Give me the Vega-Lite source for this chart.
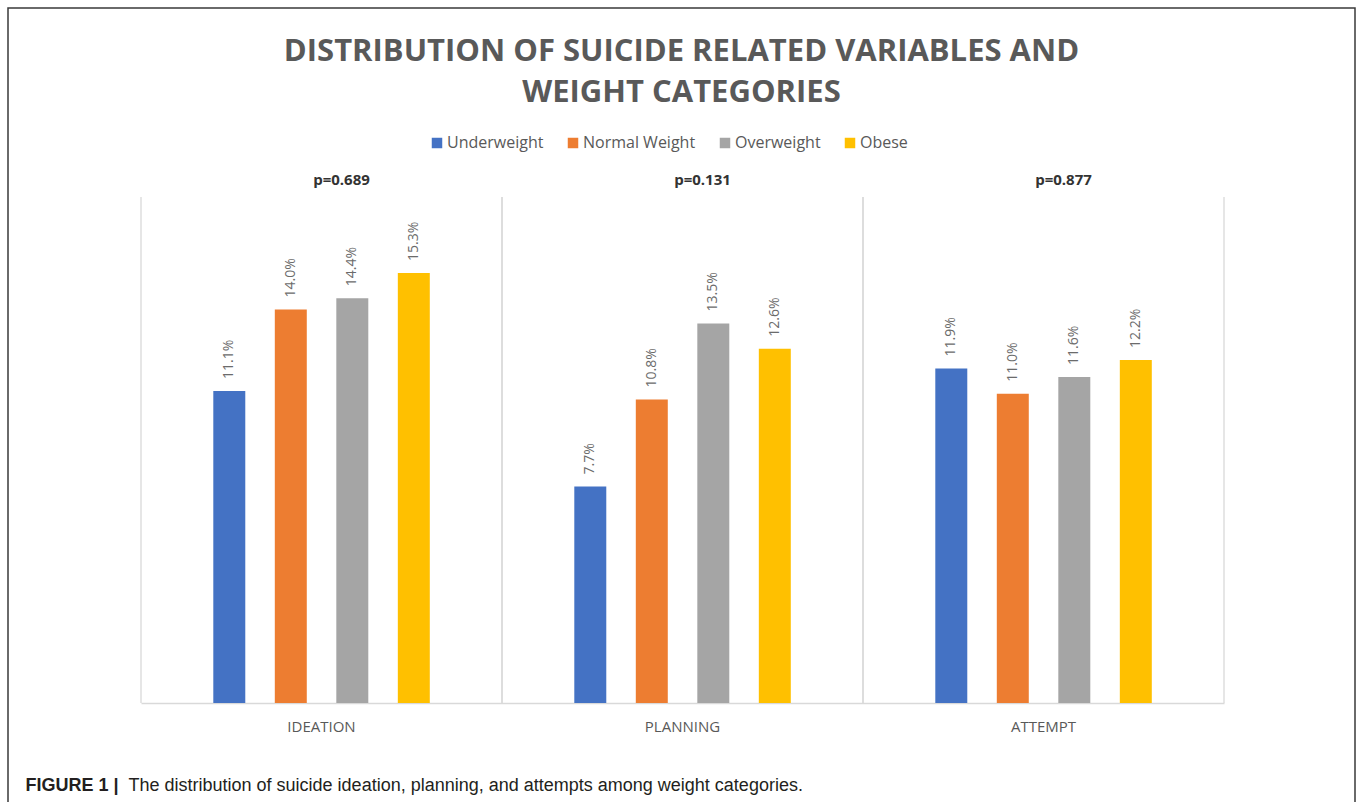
{
  "$schema": "https://vega.github.io/schema/vega-lite/v6.json",
  "width": 1347,
  "height": 820,
  "padding": {"left": 8, "top": 8, "right": 3, "bottom": 0},
  "autosize": {"type": "none"},
  "background": "white",
  "view": {"stroke": "#3a3a3a", "strokeWidth": 1.5},
  "config": {"font": "Open Sans"},
  "title": {
    "text": ["DISTRIBUTION OF SUICIDE RELATED VARIABLES AND", "WEIGHT CATEGORIES"],
    "font": "Open Sans",
    "fontSize": 31,
    "fontWeight": "bold",
    "color": "#595959",
    "anchor": "middle",
    "frame": "group",
    "lineHeight": 41,
    "offset": -101
  },
  "datasets": {
    "bars": [
      {"cat": "IDEATION", "weight": "Underweight", "pct": 0.111},
      {"cat": "IDEATION", "weight": "Normal Weight", "pct": 0.140},
      {"cat": "IDEATION", "weight": "Overweight", "pct": 0.144},
      {"cat": "IDEATION", "weight": "Obese", "pct": 0.153},
      {"cat": "PLANNING", "weight": "Underweight", "pct": 0.077},
      {"cat": "PLANNING", "weight": "Normal Weight", "pct": 0.108},
      {"cat": "PLANNING", "weight": "Overweight", "pct": 0.135},
      {"cat": "PLANNING", "weight": "Obese", "pct": 0.126},
      {"cat": "ATTEMPT", "weight": "Underweight", "pct": 0.119},
      {"cat": "ATTEMPT", "weight": "Normal Weight", "pct": 0.110},
      {"cat": "ATTEMPT", "weight": "Overweight", "pct": 0.116},
      {"cat": "ATTEMPT", "weight": "Obese", "pct": 0.122}
    ],
    "pvals": [
      {"cat": "IDEATION", "p": "p=0.689"},
      {"cat": "PLANNING", "p": "p=0.131"},
      {"cat": "ATTEMPT", "p": "p=0.877"}
    ]
  },
  "encoding": {
    "x": {
      "field": "cat",
      "type": "nominal",
      "sort": ["IDEATION", "PLANNING", "ATTEMPT"],
      "scale": {"range": [133, 1216], "paddingInner": 0, "paddingOuter": 0},
      "axis": {
        "orient": "bottom",
        "offset": -125,
        "labelAngle": 0,
        "ticks": false,
        "grid": false,
        "domainColor": "#d9d9d9",
        "domainWidth": 1.5,
        "labelFont": "Open Sans",
        "labelFontSize": 15,
        "labelColor": "#595959",
        "labelPadding": 16,
        "title": "The distribution of suicide ideation, planning, and attempts among weight categories.",
        "titleFont": "Liberation Sans",
        "titleFontSize": 18,
        "titleFontWeight": "normal",
        "titleColor": "#231f20",
        "titleAlign": "left",
        "titleBaseline": "alphabetic",
        "titleAnchor": "start",
        "titleX": 120,
        "titleY": 87
      }
    }
  },
  "layer": [
    {
      "data": {"name": "pvals"},
      "mark": {"type": "rule", "color": "#d9d9d9", "strokeWidth": 1.3},
      "encoding": {
        "x": {"field": "cat", "type": "nominal", "bandPosition": 0, "sort": ["IDEATION", "PLANNING", "ATTEMPT"]},
        "y": {"datum": 0},
        "y2": {"datum": 0.18}
      }
    },
    {
      "data": {"name": "pvals"},
      "mark": {"type": "rule", "color": "#d9d9d9", "strokeWidth": 1.3},
      "encoding": {
        "x": {"field": "cat", "type": "nominal", "bandPosition": 1, "sort": ["IDEATION", "PLANNING", "ATTEMPT"]},
        "y": {"datum": 0},
        "y2": {"datum": 0.18}
      }
    },
    {
      "data": {"name": "bars"},
      "mark": {"type": "bar"},
      "encoding": {
        "xOffset": {
          "field": "weight",
          "type": "nominal",
          "sort": ["Underweight", "Normal Weight", "Overweight", "Obese"],
          "scale": {"range": [72.3, 288.8], "paddingInner": 0.48, "paddingOuter": 0}
        },
        "y": {
          "field": "pct",
          "type": "quantitative",
          "scale": {"domain": [0, 0.18], "range": [695, 189], "nice": false},
          "axis": {
            "labels": false,
            "ticks": false,
            "domain": false,
            "grid": false,
            "title": "FIGURE 1 |",
            "titleAngle": 0,
            "titleFont": "Liberation Sans",
            "titleFontSize": 18,
            "titleFontWeight": "bold",
            "titleColor": "#231f20",
            "titleAlign": "left",
            "titleBaseline": "alphabetic",
            "titleX": 17,
            "titleY": 782
          }
        },
        "color": {
          "field": "weight",
          "type": "nominal",
          "sort": ["Underweight", "Normal Weight", "Overweight", "Obese"],
          "scale": {
            "domain": ["Underweight", "Normal Weight", "Overweight", "Obese"],
            "range": ["#4472C4", "#ED7D31", "#A5A5A5", "#FFC000"]
          },
          "legend": {
            "orient": "none",
            "legendX": 421,
            "legendY": 127,
            "direction": "horizontal",
            "columns": 4,
            "title": null,
            "symbolType": "square",
            "symbolSize": 110,
            "symbolStrokeWidth": 0,
            "labelFont": "Open Sans",
            "labelFontSize": 16,
            "labelColor": "#595959",
            "labelOffset": 2,
            "columnPadding": 21
          }
        }
      }
    },
    {
      "data": {"name": "bars"},
      "mark": {"type": "text", "angle": 270, "align": "left", "baseline": "middle", "dx": 12, "font": "Open Sans", "fontSize": 14, "color": "#6b6b6b"},
      "encoding": {
        "xOffset": {
          "field": "weight",
          "type": "nominal",
          "sort": ["Underweight", "Normal Weight", "Overweight", "Obese"]
        },
        "y": {"field": "pct", "type": "quantitative"},
        "text": {"field": "pct", "type": "quantitative", "format": ".1%"}
      }
    },
    {
      "data": {"name": "pvals"},
      "mark": {"type": "text", "baseline": "alphabetic", "align": "center", "dx": 20, "dy": -12, "font": "Open Sans", "fontSize": 15, "fontWeight": "bold", "color": "#333333"},
      "encoding": {
        "x": {"field": "cat", "type": "nominal", "sort": ["IDEATION", "PLANNING", "ATTEMPT"]},
        "y": {"datum": 0.18},
        "text": {"field": "p", "type": "nominal"}
      }
    }
  ]
}
